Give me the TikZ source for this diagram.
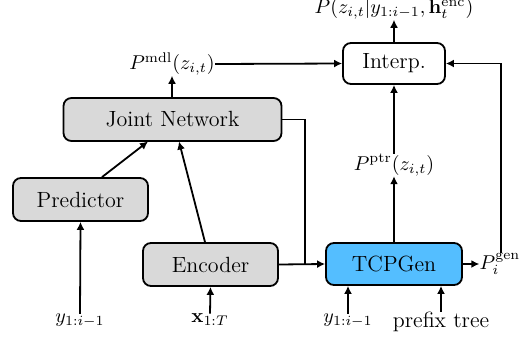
\documentclass[tikz,border=0pt]{standalone}
\usetikzlibrary{arrows.meta}
\definecolor{boxgray}{RGB}{217,217,217}
\definecolor{tcpblue}{RGB}{84,190,255}
\begin{document}
\begin{tikzpicture}[x=0.5pt,y=-0.5pt,
  blk/.style={draw,line width=0.9pt,rounded corners=4pt,inner sep=0pt,font=\rmfamily\fontsize{11}{13}\selectfont},
  lbl/.style={inner sep=0pt,font=\rmfamily\fontsize{10}{12}\selectfont},
  txt/.style={inner sep=0pt,font=\rmfamily\fontsize{11}{13}\selectfont},
  conn/.style={line width=0.9pt,-{Latex[length=4pt,width=4pt]}},
  plain/.style={line width=0.9pt}]
\useasboundingbox (0,0) rectangle (526,343);
\node[blk,fill=boxgray,minimum width=109pt,minimum height=21.5pt] (joint) at (172.5,119.5) {Joint Network};
\node[blk,fill=boxgray,minimum width=67.5pt,minimum height=21.5pt] (pred) at (80.5,199.5) {Predictor};
\node[blk,fill=boxgray,minimum width=67.5pt,minimum height=21.5pt] (enc) at (210.5,264.5) {Encoder};
\node[blk,fill=tcpblue,minimum width=68pt,minimum height=21pt] (tcp) at (394,264) {TCPGen};
\node[blk,fill=white,minimum width=51pt,minimum height=20.5pt] (interp) at (394,63.5) {Interp.};
\node[lbl] (mdl) at (172,64) {$P^{\mathrm{mdl}}(z_{i,t})$};
\node[lbl] (out) at (394,9) {$P(z_{i,t}|y_{1:i-1},\mathbf{h}^{\mathrm{enc}}_t)$};
\node[lbl] (ptr) at (394,165) {$P^{\mathrm{ptr}}(z_{i,t})$};
\node[lbl] (gen) at (500,264) {$P^{\mathrm{gen}}_i$};
\node[lbl] (y1) at (80,321) {$y_{1:i-1}$};
\node[lbl] (x1) at (210,320) {$\mathbf{x}_{1:T}$};
\node[lbl] (y2) at (348,321) {$y_{1:i-1}$};
\node[txt] (pt) at (441,322) {prefix tree};
\coordinate (jr) at (305,119.5);
\coordinate (jd) at (305,264);
\coordinate (gu) at (501,63.5);
% connectors
\draw[conn] (joint.north -| mdl) -- (mdl.south);
\draw[conn] (mdl.east) -- (interp.west);
\draw[conn] (interp.north) -- (out.south);
\draw[conn] (ptr.north) -- (interp.south);
\draw[conn] (tcp.north) -- (ptr.south);
\draw[conn] (tcp.east) -- (gen.west);
\draw[conn] (gen.north -| gu) -- (gu) -- (interp.east);
\draw[conn] (pred.north -| 102,0) -- (148,141.5);
\draw[conn] (enc.north -| 205,0) -- (179,141.5);
\draw[conn] (enc.east) -- (tcp.west);
\draw[plain] (joint.east |- jr) -- (jr) -- (jd);
\draw[conn] (y1.north) -- (pred.south);
\draw[conn] (x1.north) -- (enc.south);
\draw[conn] (y2.north) -- (y2 |- tcp.south);
\draw[conn] (pt.north) -- (pt |- tcp.south);
\end{tikzpicture}
\end{document}
